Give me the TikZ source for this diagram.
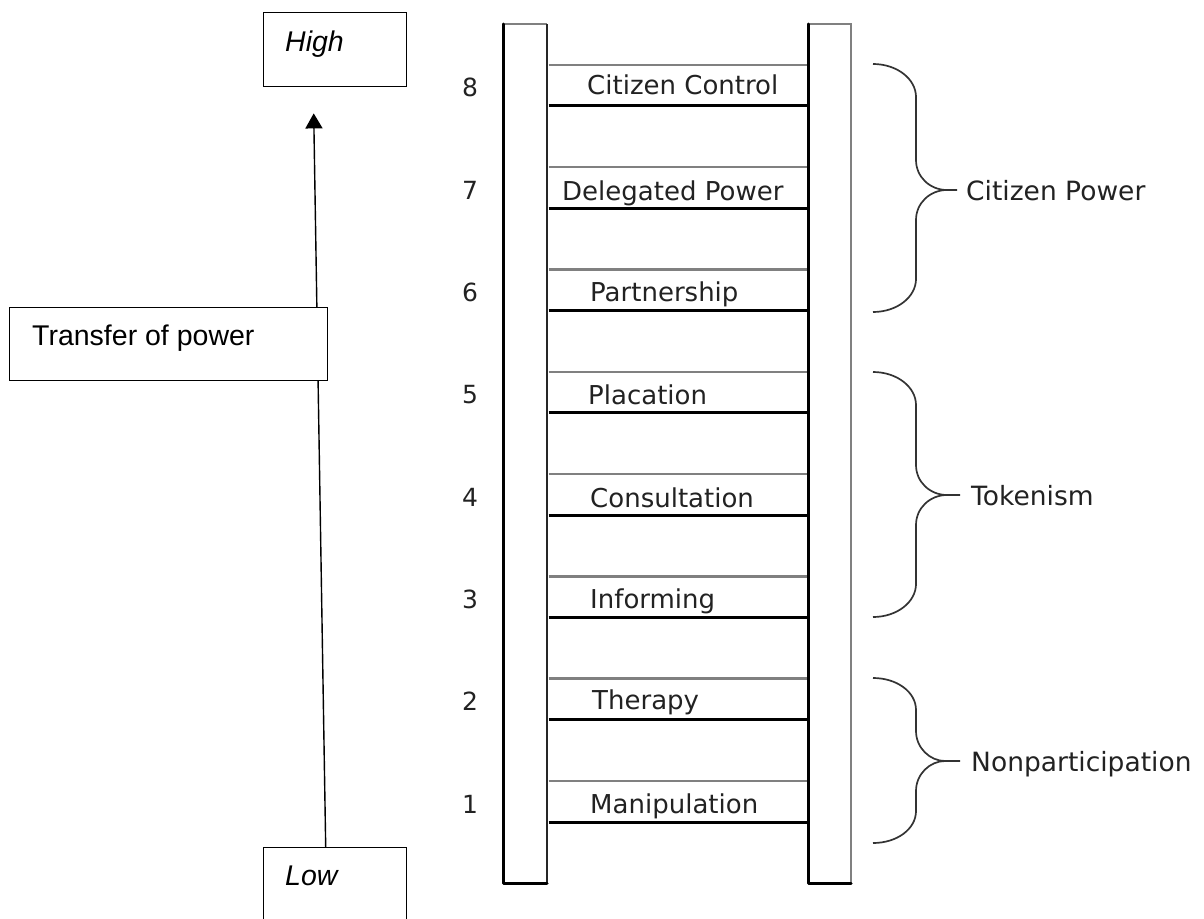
\documentclass[tikz,border=0pt]{standalone}
\usepackage{fontspec}
\setmainfont{DejaVu Sans}
\newfontfamily\arialf{Liberation Sans}
\usetikzlibrary{arrows.meta}
\definecolor{railgray}{HTML}{808080}
\definecolor{txtgray}{HTML}{222222}
\definecolor{bracegray}{HTML}{333333}
\begin{document}
\begin{tikzpicture}[x=1pt,y=-1pt,
  boxstyle/.style={draw=black,line width=1.4pt,fill=white},
  ltext/.style={font=\arialf\fontsize{28.5}{33}\selectfont,inner sep=0pt,anchor=base west},
  rungtext/.style={font=\fontsize{26}{31}\selectfont,text=txtgray,inner sep=0pt,anchor=base west},
  numtext/.style={font=\fontsize{25}{30}\selectfont,text=txtgray,inner sep=0pt,anchor=base},
  grayline/.style={draw=railgray,line width=2.5pt},
  blackline/.style={draw=black,line width=3pt},
  bracecurve/.style={draw=bracegray,line width=1.7pt},
  bracetext/.style={font=\fontsize{26.5}{31}\selectfont,text=txtgray,inner sep=0pt,anchor=base west}]
\useasboundingbox (0,0) rectangle (1204,918);
\clip (0,0) rectangle (1204,918);

% left boxes
\node[boxstyle,minimum width=143pt,minimum height=74pt,anchor=north west,inner sep=0pt] (high) at (263,12) {};
\node[ltext] (hightxt) at (285,51) {\itshape High};
\node[boxstyle,minimum width=143pt,minimum height=90pt,anchor=north west,inner sep=0pt] (low) at (263,847) {};
\node[ltext] (lowtxt) at (285,885) {\itshape Low};
\draw[line width=1.4pt,-{Triangle[width=17pt,length=15pt]}] ([xshift=-9.5pt]low.north) -- ([xshift=-21.5pt,yshift=-26pt]high.south);
\node[boxstyle,minimum width=318pt,minimum height=73pt,anchor=north west,inner sep=0pt] (tr) at (9,307) {};
\node[ltext] (trtxt) at (32,345) {Transfer of power};

% rails
\fill[white] (503,24) rectangle (547,883);
\draw[grayline] (503,24) -- (547,24);
\draw[draw=black!85,line width=2.5pt] (547,24) -- (547,883);
\draw[blackline,line cap=round,line join=round] (503,24) -- (503,883) -- (547,883);
\fill[white] (808,24) rectangle (851,883);
\draw[grayline] (808,24) -- (851,24) -- (851,883);
\draw[blackline,line cap=round,line join=round] (808,24) -- (808,883) -- (851,883);

% rungs
\foreach \n/\t/\dx/\dy in {1/Manipulation/590/9,2/Therapy/592/10,3/Informing/590/9,4/Consultation/590/8,5/Placation/588/8,6/Partnership/590/9,7/Delegated Power/562/8,8/Citizen Control/587/11}{
  \pgfmathsetmacro\yg{781-(\n-1)*102.3}
  \pgfmathsetmacro\yb{822-(\n-1)*102.3}
  \draw[grayline] (548.5,\yg) -- (806.5,\yg);
  \draw[blackline] (548.5,\yb) -- (806.5,\yb);
  \node[rungtext] (r\n) at (\dx,\yb-\dy) {\t};
  \node[numtext] (n\n) at (470,\yb-9) {\n};
}

% braces
\draw[bracecurve] (873,64) .. controls (897,64) and (916,79) .. (916,97)
  -- (916,160) .. controls (916,177) and (930,190) .. (947,190) -- (957,190)
  (947,190) .. controls (930,190) and (916,203) .. (916,220)
  -- (916,279) .. controls (916,297) and (897,312) .. (873,312);
\node[bracetext] (cp) at (966,200) {Citizen Power};
\draw[bracecurve] (873,372) .. controls (897,372) and (916,387) .. (916,405)
  -- (916,465) .. controls (916,482) and (930,495) .. (947,495) -- (960,495)
  (947,495) .. controls (930,495) and (916,508) .. (916,525)
  -- (916,584) .. controls (916,602) and (897,617) .. (873,617);
\node[bracetext] (tk) at (971,505) {Tokenism};
\draw[bracecurve] (873,678) .. controls (897,678) and (916,692) .. (916,710)
  -- (916,731) .. controls (916,748) and (930,761) .. (945,761) -- (960,761)
  (945,761) .. controls (930,761) and (916,774) .. (916,791)
  -- (916,811) .. controls (916,829) and (897,843) .. (873,843);
\node[bracetext] (np) at (971,771) {Nonparticipation};
\end{tikzpicture}
\end{document}
